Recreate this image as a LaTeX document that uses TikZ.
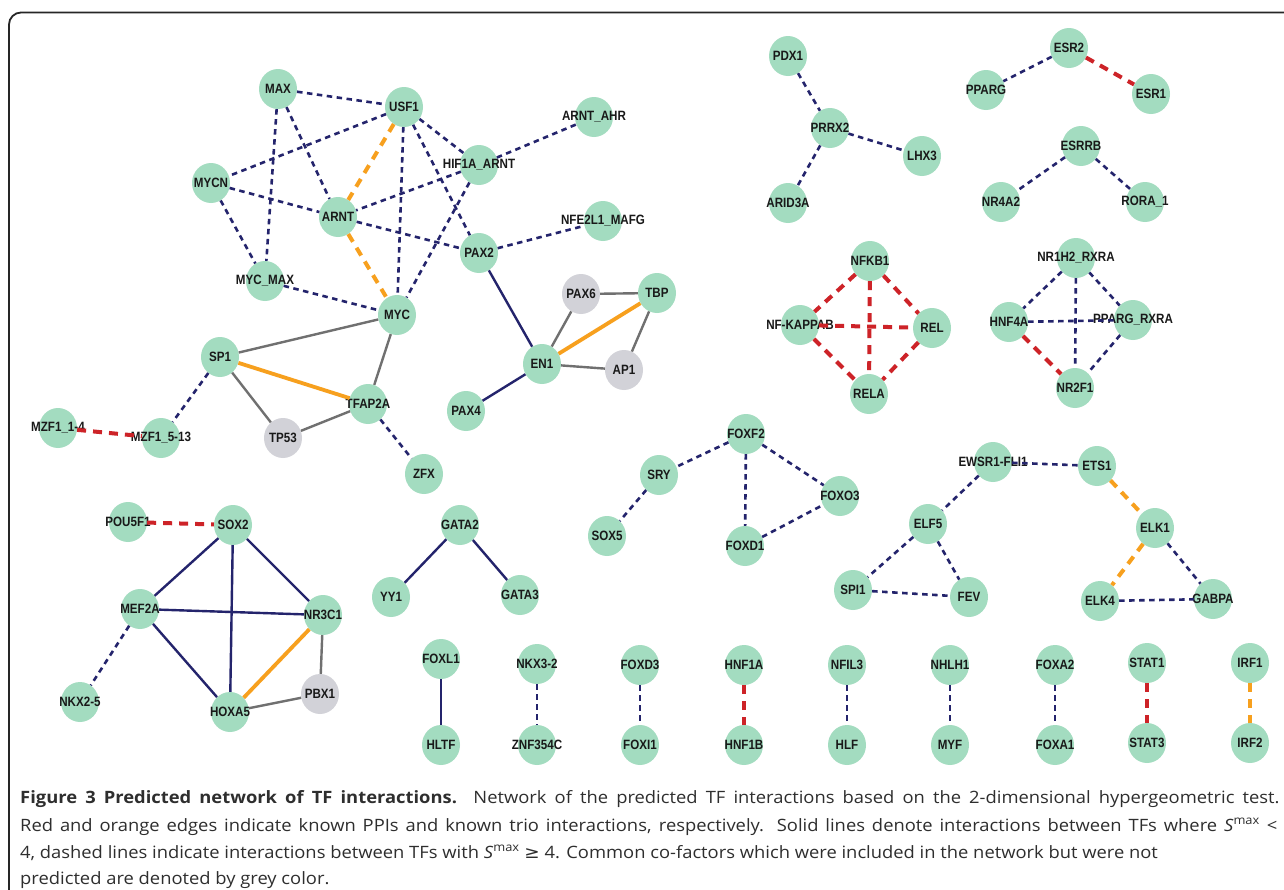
\documentclass[tikz,border=0pt]{standalone}
\usepackage{fontspec}
\usepackage{graphicx}
\usetikzlibrary{shapes.geometric}
\newfontfamily\labfont[FakeStretch=0.86]{Liberation Sans}
\newfontfamily\capfont{Open Sans}
\newfontfamily\symfont{DejaVu Sans}
\definecolor{tfgreen}{RGB}{163,220,192}
\definecolor{cofgrey}{RGB}{210,210,216}
\definecolor{navyedge}{RGB}{36,36,108}
\definecolor{rededge}{RGB}{205,35,40}
\definecolor{orangeedge}{RGB}{247,160,30}
\definecolor{greyedge}{RGB}{112,112,112}
\newcommand\tfn[4][tf]{\node[#1,label={[lab]center:#4}] (#2) at (#3) {};}
\newcommand\capwide[1]{\scalebox{1.08}[1]{#1}}
\begin{document}
\begin{tikzpicture}[x=1pt,y=-1pt,
  tf/.style={ellipse, fill=tfgreen, minimum width=38pt, minimum height=40pt, inner sep=0pt},
  cof/.style={tf, fill=cofgrey},
  lab/.style={font=\labfont\bfseries\fontsize{13.5}{13.5}\selectfont, text=black!90, inner sep=0pt},
  nd/.style={draw=navyedge, line width=2.6pt, dash pattern=on 5.5pt off 4.5pt},
  rd/.style={draw=rededge, line width=4pt, dash pattern=on 9pt off 7pt},
  od/.style={draw=orangeedge, line width=4pt, dash pattern=on 9pt off 7pt},
  ns/.style={draw=navyedge, line width=2.4pt},
  gs/.style={draw=greyedge, line width=2.4pt},
  os/.style={draw=orangeedge, line width=3.8pt},
  capline/.style={font=\capfont\fontsize{17}{18}\selectfont, text=black!82, inner sep=0pt, anchor=base west},
  frame/.style={draw=black!85, line width=1.8pt, rounded corners=12pt}
]
\useasboundingbox (0,0) rectangle (1284,889);
\clip (0,0) rectangle (1284,889);
\fill[white] (0,0) rectangle (1284,889);
\draw[frame] (1300,12.5) -- (9,12.5) -- (9,905);

% ---- cluster 1
\tfn{max}{278,89}{MAX}
\tfn{usf1}{404,107}{USF1}
\tfn{arntahr}{594,117}{ARNT\_AHR}
\tfn{hif}{479,165}{HIF1A\_ARNT}
\tfn{mycn}{211,183}{MYCN}
\tfn{arnt}{338,217}{ARNT}
\tfn{nfe}{603,221}{NFE2L1\_MAFG}
\tfn{pax2}{479,253}{PAX2}
\tfn{mycmax}{265,281}{MYC\_MAX}
\tfn{myc}{397,315}{MYC}
\tfn{sp1}{220,357}{SP1}
\tfn[cof]{pax6}{581,294}{PAX6}
\tfn{tbp}{657,293}{TBP}
\tfn{en1}{542,364}{EN1}
\tfn[cof]{ap1}{624,370}{AP1}
\tfn{tfap2a}{368,404}{TFAP2A}
\tfn{pax4}{466,411}{PAX4}
\tfn[cof]{tp53}{283,438}{TP53}
\tfn{mzfa}{58,428}{MZF1\_1-4}
\tfn{mzfb}{161,438}{MZF1\_5-13}
\tfn{zfx}{424,474}{ZFX}
% ---- top middle / right
\tfn{pdx1}{788,56}{PDX1}
\tfn{prrx2}{830,128}{PRRX2}
\tfn{lhx3}{922,156}{LHX3}
\tfn{arid3a}{788,203}{ARID3A}
\tfn{esr2}{1069,48}{ESR2}
\tfn{pparg}{986,90}{PPARG}
\tfn{esr1}{1151,94}{ESR1}
\tfn{esrrb}{1081,146}{ESRRB}
\tfn{nr4a2}{1001,202}{NR4A2}
\tfn{rora}{1145,202}{RORA\_1}
\tfn{nfkb1}{870,261}{NFKB1}
\tfn{nfkappab}{800,325}{NF-KAPPAB}
\tfn{rel}{932,328}{REL}
\tfn{rela}{869,394}{RELA}
\tfn{nr1h2}{1076,258}{NR1H2\_RXRA}
\tfn{hnf4a}{1009,322}{HNF4A}
\tfn{ppargrxra}{1133,320}{PPARG\_RXRA}
\tfn{nr2f1}{1075,388}{NR2F1}
% ---- lower left
\tfn{pou5f1}{128,522}{POU5F1}
\tfn{sox2}{233,525}{SOX2}
\tfn{gata2}{460,525}{GATA2}
\tfn{mef2a}{140,609}{MEF2A}
\tfn{nr3c1}{323,615}{NR3C1}
\tfn{yy1}{391,597}{YY1}
\tfn{gata3}{520,595}{GATA3}
\tfn{nkx25}{80,702}{NKX2-5}
\tfn{hoxa5}{230,712}{HOXA5}
\tfn[cof]{pbx1}{320,694}{PBX1}
% ---- FOX cluster
\tfn{foxf2}{746,434}{FOXF2}
\tfn{sry}{659,475}{SRY}
\tfn{sox5}{607,536}{SOX5}
\tfn{foxo3}{840,496}{FOXO3}
\tfn{foxd1}{745,546}{FOXD1}
% ---- ETS cluster
\tfn{ewsr}{993,462}{EWSR1-FLI1}
\tfn{ets1}{1097,466}{ETS1}
\tfn{elf5}{928,524}{ELF5}
\tfn{elk1}{1155,528}{ELK1}
\tfn{spi1}{853,590}{SPI1}
\tfn{fev}{969,597}{FEV}
\tfn{elk4}{1100,601}{ELK4}
\tfn{gabpa}{1213,599}{GABPA}
% ---- bottom pairs
\tfn{foxl1}{441,659}{FOXL1}
\tfn{hltf}{441,745}{HLTF}
\tfn{nkx32}{537,664}{NKX3-2}
\tfn{znf}{537,745}{ZNF354C}
\tfn{foxd3}{640,665}{FOXD3}
\tfn{foxi1}{640,745}{FOXI1}
\tfn{hnf1a}{744,665}{HNF1A}
\tfn{hnf1b}{744,745}{HNF1B}
\tfn{nfil3}{847,665}{NFIL3}
\tfn{hlf}{847,745}{HLF}
\tfn{nhlh1}{950,665}{NHLH1}
\tfn{myf}{950,745}{MYF}
\tfn{foxa2}{1055,665}{FOXA2}
\tfn{foxa1}{1055,745}{FOXA1}
\tfn{stat1}{1147,663}{STAT1}
\tfn{stat3}{1147,743}{STAT3}
\tfn{irf1}{1250,663}{IRF1}
\tfn{irf2}{1250,743}{IRF2}

% ---- edges cluster 1
\draw[nd] (max) -- (usf1);
\draw[nd] (max) -- (mycmax);
\draw[nd] (max) -- (arnt);
\draw[nd] (usf1) -- (mycn);
\draw[od] (usf1) -- (arnt);
\draw[nd] (usf1) -- (myc);
\draw[nd] (usf1) -- (hif);
\draw[nd] (usf1) -- (pax2);
\draw[nd] (hif) -- (arntahr);
\draw[nd] (hif) -- (arnt);
\draw[nd] (hif) -- (myc);
\draw[nd] (mycn) -- (arnt);
\draw[nd] (mycn) -- (mycmax);
\draw[nd] (arnt) -- (pax2);
\draw[od] (arnt) -- (myc);
\draw[nd] (pax2) -- (nfe);
\draw[ns] (pax2) -- (en1);
\draw[nd] (mycmax) -- (myc);
\draw[gs] (myc) -- (sp1);
\draw[gs] (myc) -- (tfap2a);
\draw[os] (sp1) -- (tfap2a);
\draw[gs] (sp1) -- (tp53);
\draw[nd] (sp1) -- (mzfb);
\draw[gs] (tp53) -- (tfap2a);
\draw[nd] (tfap2a) -- (zfx);
\draw[rd] (mzfa) -- (mzfb);
\draw[gs] (en1) -- (pax6);
\draw[os] (en1) -- (tbp);
\draw[gs] (en1) -- (ap1);
\draw[ns] (en1) -- (pax4);
\draw[gs] (pax6) -- (tbp);
\draw[gs] (tbp) -- (ap1);
% ---- top middle / right
\draw[nd] (pdx1) -- (prrx2);
\draw[nd] (prrx2) -- (lhx3);
\draw[nd] (prrx2) -- (arid3a);
\draw[nd] (esr2) -- (pparg);
\draw[rd] (esr2) -- (esr1);
\draw[nd] (esrrb) -- (nr4a2);
\draw[nd] (esrrb) -- (rora);
\draw[rd] (nfkb1) -- (nfkappab);
\draw[rd] (nfkb1) -- (rel);
\draw[rd] (nfkb1) -- (rela);
\draw[rd] (nfkappab) -- (rel);
\draw[rd] (nfkappab) -- (rela);
\draw[rd] (rel) -- (rela);
\draw[nd] (nr1h2) -- (hnf4a);
\draw[nd] (nr1h2) -- (ppargrxra);
\draw[nd] (nr1h2) -- (nr2f1);
\draw[nd] (hnf4a) -- (ppargrxra);
\draw[rd] (hnf4a) -- (nr2f1);
\draw[nd] (ppargrxra) -- (nr2f1);
% ---- lower left
\draw[rd] (pou5f1) -- (sox2);
\draw[ns] (sox2) -- (mef2a);
\draw[ns] (sox2) -- (nr3c1);
\draw[ns] (sox2) -- (hoxa5);
\draw[ns] (mef2a) -- (nr3c1);
\draw[ns] (mef2a) -- (hoxa5);
\draw[nd] (mef2a) -- (nkx25);
\draw[os] (nr3c1) -- (hoxa5);
\draw[gs] (nr3c1) -- (pbx1);
\draw[gs] (hoxa5) -- (pbx1);
\draw[ns] (gata2) -- (yy1);
\draw[ns] (gata2) -- (gata3);
% ---- FOX cluster
\draw[nd] (foxf2) -- (sry);
\draw[nd] (foxf2) -- (foxd1);
\draw[nd] (foxf2) -- (foxo3);
\draw[nd] (foxd1) -- (foxo3);
\draw[nd] (sry) -- (sox5);
% ---- ETS cluster
\draw[nd] (ewsr) -- (ets1);
\draw[nd] (ewsr) -- (elf5);
\draw[nd] (elf5) -- (spi1);
\draw[nd] (elf5) -- (fev);
\draw[nd] (spi1) -- (fev);
\draw[od] (ets1) -- (elk1);
\draw[od] (elk1) -- (elk4);
\draw[nd] (elk1) -- (gabpa);
\draw[nd] (elk4) -- (gabpa);
% ---- bottom pairs
\draw[ns] (foxl1) -- (hltf);
\draw[nd] (nkx32) -- (znf);
\draw[nd] (foxd3) -- (foxi1);
\draw[rd] (hnf1a) -- (hnf1b);
\draw[nd] (nfil3) -- (hlf);
\draw[nd] (nhlh1) -- (myf);
\draw[nd] (foxa2) -- (foxa1);
\draw[rd] (stat1) -- (stat3);
\draw[od] (irf1) -- (irf2);

% ---- caption
\node[capline] (cap1) at (20,803) {\capwide{\makebox[1166pt][s]{\textbf{Figure 3 Predicted network of TF interactions.} Network of the predicted TF interactions based on the 2-dimensional hypergeometric test.}}};
\node[capline] (cap2) at (20,831) {\capwide{\makebox[1164pt][s]{Red and orange edges indicate known PPIs and known trio interactions, respectively. Solid lines denote interactions between TFs where \textit{S}\textsuperscript{max} <}}};
\node[capline] (cap3) at (20,858) {\capwide{4, dashed lines indicate interactions between TFs with \textit{S}\textsuperscript{max} {\symfont ≥} 4. Common co-factors which were included in the network but were not}};
\node[capline] (cap4) at (20,884) {\capwide{predicted are denoted by grey color.}};
\end{tikzpicture}
\end{document}
